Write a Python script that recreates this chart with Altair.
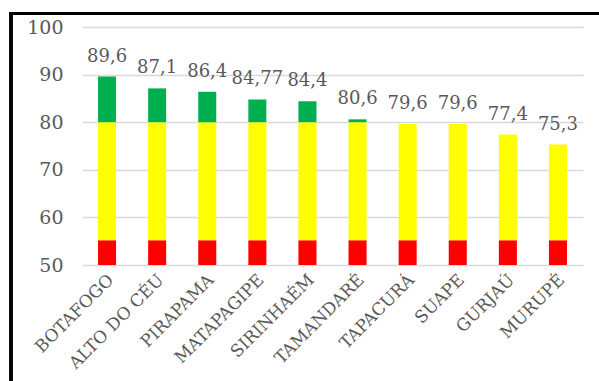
import altair as alt
import pandas as pd

stations = ["BOTAFOGO", "ALTO DO CÉU", "PIRAPAMA", "MATAPAGIPE", "SIRINHAÉM",
            "TAMANDARÉ", "TAPACURÁ", "SUAPE", "GURJAÚ", "MURUPÉ"]
values = [89.6, 87.1, 86.4, 84.77, 84.4, 80.6, 79.6, 79.6, 77.4, 75.3]
labels = ["89,6", "87,1", "86,4", "84,77", "84,4", "80,6", "79,6", "79,6", "77,4", "75,3"]
base = 50
red_top = 55.2
yellow_top = 80

rows = []
for s, v in zip(stations, values):
    rows.append({"station": s, "lo": base, "hi": red_top, "band": "red"})
    rows.append({"station": s, "lo": red_top, "hi": min(v, yellow_top), "band": "yellow"})
    if v > yellow_top:
        rows.append({"station": s, "lo": yellow_top, "hi": v, "band": "green"})
seg = pd.DataFrame(rows)
lab = pd.DataFrame({"station": stations, "value": values, "label": labels})

FONT = "DejaVu Serif"
GREY = "#595959"

x = alt.X("station:N", sort=stations, title=None,
          scale=alt.Scale(paddingInner=0.64, paddingOuter=0.32),
          axis=alt.Axis(labelAngle=-45, labelAlign="right", labelBaseline="middle",
                        labelFont=FONT, labelFontSize=17, labelColor=GREY,
                        labelPadding=12, labelOffset=4, ticks=False, domain=False))

bars = alt.Chart(seg).mark_bar().encode(
    x=x,
    y=alt.Y("lo:Q", scale=alt.Scale(domain=[50, 100], nice=False), title=None,
            axis=alt.Axis(values=[50, 60, 70, 80, 90, 100], labelFont=FONT,
                          labelFontSize=19, labelColor=GREY, labelPadding=19,
                          ticks=False, domain=False, gridColor="#D9D9D9",
                          gridWidth=1.5)),
    y2="hi:Q",
    color=alt.Color("band:N", scale=alt.Scale(domain=["red", "yellow", "green"],
                                              range=["#FF0000", "#FFFF00", "#00B050"]),
                    legend=None),
)

text = alt.Chart(lab).mark_text(font=FONT, fontSize=18, color=GREY, dy=-11,
                                baseline="bottom").encode(
    x=alt.X("station:N", sort=stations),
    y="value:Q",
    text="label:N",
)

frame_top = alt.Chart(lab).mark_rule(color="black", strokeWidth=2.5).encode(
    x=alt.value(-72), x2=alt.value(520), y=alt.value(-13.5))
frame_left = alt.Chart(lab).mark_rule(color="black", strokeWidth=2.5).encode(
    x=alt.value(-71), y=alt.value(-15), y2=alt.value(360))

chart = alt.layer(bars, text, frame_top, frame_left).properties(
    width=501, height=238,
    autosize=alt.AutoSizeParams(type="none"),
    padding={"left": 82, "top": 27, "right": 16, "bottom": 116},
    background="white",
).configure_view(stroke=None)

chart.save("out.html", embed_options={"renderer": "svg", "actions": False})
